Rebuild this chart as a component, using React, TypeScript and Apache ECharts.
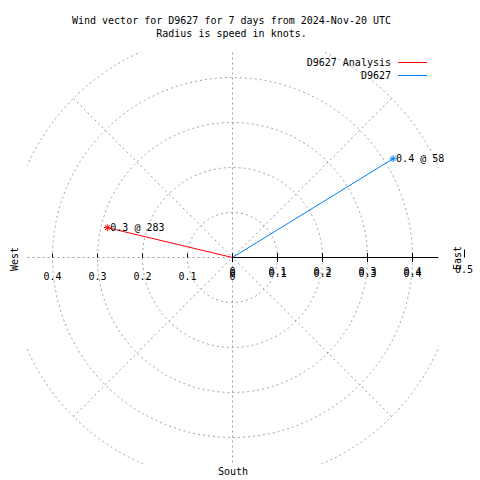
import React, { useEffect, useRef } from 'react';
import * as echarts from 'echarts';

const TITLE_LINES = ['Wind vector for D9627 for 7 days from 2024-Nov-20 UTC', 'Radius is speed in knots.'];
const SERIES_NAMES = ['D9627 Analysis', 'D9627'];
const SPEEDS = [0.286, 0.419];
const DIRECTIONS = [283.4, 58.4];
const COLORS = ['#ff0000', '#0080ff'];
const RADIUS_MAX = 0.5;
const RADIUS_LABEL_MAX = 0.4;
const RADIUS_STEP = 0.1;
const ANGLE_STEP = 45;
const COMPASS_LABELS = { east: 'East', west: 'West', south: 'South' };

const FONT = 'DejaVu Sans Mono';
const CX = 232.5;
const CY = 257.5;
const R = 225;
const CLIP = { left: 27, right: 439, top: 52, bottom: 464 };
const GRID_LINE = { color: '#a0a0a0', width: 1, type: [2, 3] as number[] };
const STAR = 'path://M3 0V6M0 3H6M0.9 0.9L5.1 5.1M0.9 5.1L5.1 0.9';

function buildOption() {
  const txt = (text: string, x: number, y: number, extra: any = {}) => ({
    type: 'text',
    x,
    y,
    z: 10,
    ...extra,
    style: { text, font: `10px "${FONT}"`, fill: '#000', align: 'center', verticalAlign: 'middle' },
  });
  const mask = (x: number, y: number, w: number, h: number) => ({
    type: 'rect',
    z: 1,
    silent: true,
    shape: { x, y, width: w, height: h },
    style: { fill: '#fff' },
  });
  const labelFont = { fontFamily: FONT, fontSize: 10, color: '#000' };
  const fmt = (v: number) => String(Math.abs(Math.round(v * 10) / 10));
  const pxPerUnit = R / RADIUS_MAX;
  const gridTop = CY - 100;

  return {
    animation: false,
    backgroundColor: '#fff',
    legend: {
      orient: 'vertical',
      right: 48,
      top: 51,
      align: 'right',
      itemWidth: 29,
      itemHeight: 1,
      itemGap: 0,
      icon: 'rect',
      selectedMode: false,
      itemStyle: { borderWidth: 0 },
      textStyle: { ...labelFont, lineHeight: 13, padding: [0, 2, 0, 0] },
      data: SERIES_NAMES,
    },
    polar: { center: [CX, CY], radius: R },
    angleAxis: {
      type: 'value',
      min: 0,
      max: 360,
      interval: ANGLE_STEP,
      startAngle: 90,
      clockwise: true,
      z: 0,
      axisLine: { show: false },
      axisTick: { show: false },
      axisLabel: { show: false },
      splitLine: { show: true, lineStyle: GRID_LINE },
    },
    radiusAxis: {
      type: 'value',
      min: 0,
      max: RADIUS_MAX,
      interval: RADIUS_STEP,
      z: 0,
      axisLine: { show: false },
      axisTick: { show: false },
      axisLabel: { show: false },
      splitLine: { show: true, lineStyle: GRID_LINE },
    },
    grid: [
      { left: CX, width: RADIUS_LABEL_MAX * pxPerUnit, top: gridTop, height: 100, outerBoundsMode: 'none' },
      { left: CX, width: CLIP.right - 1 - CX, top: gridTop, height: 100, outerBoundsMode: 'none' },
      { left: CX - R, width: R, top: gridTop, height: 100, outerBoundsMode: 'none' },
      { left: 464, width: 100, top: gridTop, height: 100, outerBoundsMode: 'none' },
    ],
    xAxis: [
      {
        gridIndex: 0, position: 'bottom', type: 'value', min: 0, max: RADIUS_LABEL_MAX, interval: RADIUS_STEP, z: 5,
        axisLine: { show: false },
        axisTick: { show: true, inside: false, length: 4.5, lineStyle: { color: '#000' } },
        axisLabel: { margin: 9, ...labelFont, formatter: fmt },
        splitLine: { show: false },
      },
      {
        gridIndex: 0, position: 'bottom', type: 'value', min: 0, max: RADIUS_LABEL_MAX, interval: RADIUS_STEP, z: 5,
        axisLine: { show: false },
        axisTick: { show: true, inside: true, length: 4.5, lineStyle: { color: '#000' } },
        axisLabel: { inside: false, margin: 11, ...labelFont, formatter: fmt },
        splitLine: { show: false },
      },
      {
        gridIndex: 1, position: 'bottom', type: 'value', min: 0, max: 1, z: 5,
        axisLine: { show: true, lineStyle: { color: '#000', width: 1 } },
        axisTick: { show: false },
        axisLabel: { show: false },
        splitLine: { show: false },
      },
      {
        gridIndex: 2, position: 'bottom', type: 'value', min: -RADIUS_MAX, max: 0, interval: RADIUS_STEP, z: 0,
        axisLine: { show: false },
        axisTick: { show: true, inside: true, length: 4, lineStyle: { color: '#000' } },
        axisLabel: { margin: 14, ...labelFont, formatter: fmt, showMinLabel: false },
        splitLine: { show: false },
      },
      {
        gridIndex: 3, position: 'bottom', offset: 4, type: 'value', min: RADIUS_MAX, max: RADIUS_MAX + RADIUS_STEP,
        interval: RADIUS_STEP, z: 5,
        axisLine: { show: false },
        axisTick: { show: true, inside: true, length: 8, lineStyle: { color: '#000' } },
        axisLabel: { margin: 3, ...labelFont, formatter: fmt, showMaxLabel: false },
        splitLine: { show: false },
      },
    ],
    yAxis: [0, 1, 2, 3].map((g) => ({ gridIndex: g, type: 'value', show: false })),
    series: SERIES_NAMES.map((name, i) => ({
      type: 'line',
      name,
      coordinateSystem: 'polar',
      polarIndex: 0,
      color: COLORS[i],
      z: 3,
      symbol: STAR,
      symbolSize: 7,
      lineStyle: { color: COLORS[i], width: 1 },
      itemStyle: { color: COLORS[i], borderColor: COLORS[i], borderWidth: 1 },
      emphasis: { disabled: true },
      label: {
        show: true,
        position: 'right',
        distance: -1,
        ...labelFont,
        formatter: (p: any) => `${p.value[0].toFixed(1)} @ ${Math.round(p.value[1])}`,
      },
      data: [
        { value: [0, 0], symbol: 'none', label: { show: false } },
        { value: [SPEEDS[i], DIRECTIONS[i]] },
      ],
    })),
    graphic: [
      mask(0, 0, 480, CLIP.top),
      mask(0, CLIP.bottom, 480, 480 - CLIP.bottom),
      mask(0, 0, CLIP.left, 480),
      mask(CLIP.right, 0, 480 - CLIP.right, 480),
      txt(TITLE_LINES[0], 231.5, 20.5),
      txt(TITLE_LINES[1], 231.5, 33.5),
      txt(COMPASS_LABELS.east, 457, 258, { rotation: Math.PI / 2 }),
      txt(COMPASS_LABELS.west, 14, 259, { rotation: Math.PI / 2 }),
      txt(COMPASS_LABELS.south, 233, 471),
    ],
  };
}

export default function App() {
  const ref = useRef<HTMLDivElement>(null);
  useEffect(() => {
    const chart = echarts.init(ref.current!, null, { renderer: 'svg' });
    chart.setOption(buildOption() as any);
    return () => chart.dispose();
  }, []);
  return <div ref={ref} style={{ position: 'fixed', left: 0, top: 0, width: 480, height: 480 }} />;
}
